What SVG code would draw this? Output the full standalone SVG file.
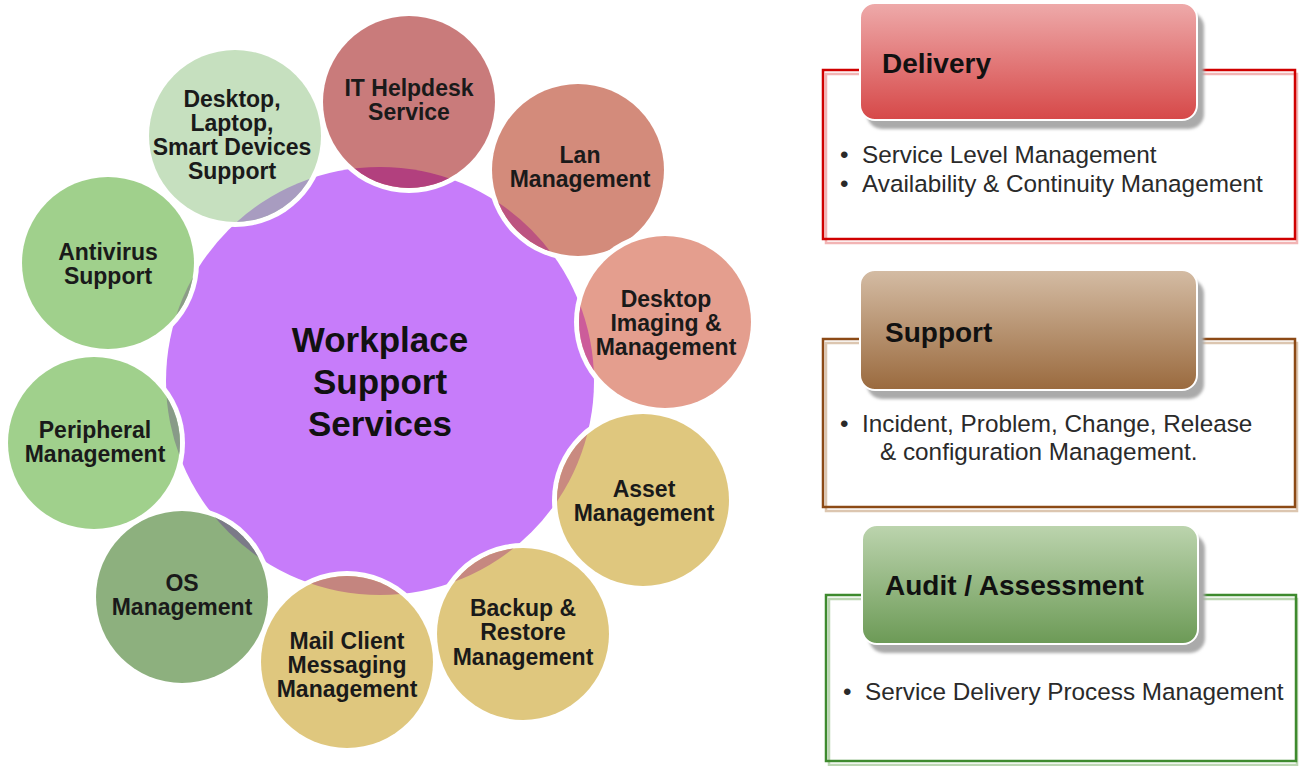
<svg xmlns="http://www.w3.org/2000/svg" width="1299" height="766" viewBox="0 0 1299 766">
<style>
.sat{font-family:"Liberation Sans",Arial,sans-serif;font-weight:bold;font-size:23px;fill:#1a1a1a;text-anchor:middle}
.ctr{font-family:"Liberation Sans",Arial,sans-serif;font-weight:bold;font-size:35px;fill:#111;text-anchor:middle}
.hd{font-family:"Liberation Sans",Arial,sans-serif;font-weight:bold;font-size:28px;fill:#111}
.bl{font-family:"Liberation Sans",Arial,sans-serif;font-size:24.3px;fill:#2a2a2a}
.halo{fill:#fff}
</style>
<defs>
<filter id="blur" x="-10%" y="-10%" width="120%" height="130%"><feGaussianBlur stdDeviation="1.5"/></filter>
<linearGradient id="gRed" x1="0" y1="0" x2="0" y2="1"><stop offset="0" stop-color="#eeaaaa"/><stop offset="1" stop-color="#d64848"/></linearGradient>
<linearGradient id="gBrown" x1="0" y1="0" x2="0" y2="1"><stop offset="0" stop-color="#d4bca4"/><stop offset="1" stop-color="#9a6a3e"/></linearGradient>
<linearGradient id="gGreen" x1="0" y1="0" x2="0" y2="1"><stop offset="0" stop-color="#bcd4ae"/><stop offset="1" stop-color="#6c9a56"/></linearGradient>
<clipPath id="c1"><circle cx="409" cy="102" r="86"/></clipPath>
<clipPath id="c2"><circle cx="578" cy="170" r="86"/></clipPath>
<clipPath id="c3"><circle cx="665" cy="322" r="86"/></clipPath>
<clipPath id="c4"><circle cx="643" cy="500" r="86"/></clipPath>
<clipPath id="c5"><circle cx="523" cy="634" r="86"/></clipPath>
<clipPath id="c6"><circle cx="347" cy="662" r="86"/></clipPath>
<clipPath id="c7"><circle cx="182" cy="597" r="86"/></clipPath>
<clipPath id="c8"><circle cx="94" cy="443" r="86"/></clipPath>
<clipPath id="c9"><circle cx="108" cy="263" r="86"/></clipPath>
<clipPath id="c10"><circle cx="235" cy="136" r="86"/></clipPath>
</defs>

<g id="n-center">
<circle cx="380" cy="381" r="214" fill="#c77cfa"/>
</g>

<g id="n-it-helpdesk">
<circle class="halo" cx="409" cy="102" r="91"/>
<circle cx="409" cy="102" r="86" fill="#c97b7b"/>
<circle cx="380" cy="381" r="214" fill="#b2407e" clip-path="url(#c1)"/>
<text class="sat" x="409" y="96">IT Helpdesk</text>
<text class="sat" x="409" y="120">Service</text>
</g>

<g id="n-lan">
<circle class="halo" cx="578" cy="170" r="91"/>
<circle cx="578" cy="170" r="86" fill="#d38b7b"/>
<circle cx="380" cy="381" r="214" fill="#bc5480" clip-path="url(#c2)"/>
<text class="sat" x="580" y="163">Lan</text>
<text class="sat" x="580" y="187">Management</text>
</g>

<g id="n-desktop-imaging">
<circle class="halo" cx="665" cy="322" r="91"/>
<circle cx="665" cy="322" r="86" fill="#e49e8e"/>
<circle cx="380" cy="381" r="214" fill="#cc5c9a" clip-path="url(#c3)"/>
<text class="sat" x="666" y="307">Desktop</text>
<text class="sat" x="666" y="331">Imaging &amp;</text>
<text class="sat" x="666" y="355">Management</text>
</g>

<g id="n-asset">
<circle class="halo" cx="643" cy="500" r="91"/>
<circle cx="643" cy="500" r="86" fill="#dfc77e"/>
<circle cx="380" cy="381" r="214" fill="#c98a80" clip-path="url(#c4)"/>
<text class="sat" x="644" y="497">Asset</text>
<text class="sat" x="644" y="521">Management</text>
</g>

<g id="n-backup">
<circle class="halo" cx="523" cy="634" r="91"/>
<circle cx="523" cy="634" r="86" fill="#dfc77e"/>
<circle cx="380" cy="381" r="214" fill="#c68880" clip-path="url(#c5)"/>
<text class="sat" x="523" y="616">Backup &amp;</text>
<text class="sat" x="523" y="640">Restore</text>
<text class="sat" x="523" y="665">Management</text>
</g>

<g id="n-mail">
<circle class="halo" cx="347" cy="662" r="91"/>
<circle cx="347" cy="662" r="86" fill="#dfc77e"/>
<circle cx="380" cy="381" r="214" fill="#c4857f" clip-path="url(#c6)"/>
<text class="sat" x="347" y="649">Mail Client</text>
<text class="sat" x="347" y="673">Messaging</text>
<text class="sat" x="347" y="697">Management</text>
</g>

<g id="n-os">
<circle class="halo" cx="182" cy="597" r="91"/>
<circle cx="182" cy="597" r="86" fill="#8db07e"/>
<circle cx="380" cy="381" r="214" fill="#7b7a88" clip-path="url(#c7)"/>
<text class="sat" x="182" y="591">OS</text>
<text class="sat" x="182" y="615">Management</text>
</g>

<g id="n-peripheral">
<circle class="halo" cx="94" cy="443" r="91"/>
<circle cx="94" cy="443" r="86" fill="#a0d08c"/>
<circle cx="380" cy="381" r="214" fill="#889a88" clip-path="url(#c8)"/>
<text class="sat" x="95" y="438">Peripheral</text>
<text class="sat" x="95" y="462">Management</text>
</g>

<g id="n-antivirus">
<circle class="halo" cx="108" cy="263" r="91"/>
<circle cx="108" cy="263" r="86" fill="#a0d08c"/>
<circle cx="380" cy="381" r="214" fill="#8c9c88" clip-path="url(#c9)"/>
<text class="sat" x="108" y="260">Antivirus</text>
<text class="sat" x="108" y="284">Support</text>
</g>

<g id="n-desktop-laptop">
<circle class="halo" cx="235" cy="136" r="91"/>
<circle cx="235" cy="136" r="86" fill="#c6e0bf"/>
<circle cx="380" cy="381" r="214" fill="#a89cc0" clip-path="url(#c10)"/>
<text class="sat" x="232" y="107">Desktop,</text>
<text class="sat" x="232" y="131">Laptop,</text>
<text class="sat" x="232" y="155">Smart Devices</text>
<text class="sat" x="232" y="179">Support</text>
</g>

<g id="n-center-label">
<text class="ctr" x="380" y="352">Workplace</text>
<text class="ctr" x="380" y="394">Support</text>
<text class="ctr" x="380" y="436">Services</text>
</g>

<g id="n-delivery">
<rect x="826" y="74" width="471" height="169" fill="none" stroke="#f2b4b4" stroke-width="2.5"/>
<rect x="823" y="70" width="472" height="169" fill="none" stroke="#d00000" stroke-width="2.5"/>
<rect x="867" y="12" width="337" height="117" rx="15" fill="#aaa" filter="url(#blur)"/>
<rect x="860" y="3" width="337" height="117" rx="15" fill="url(#gRed)" stroke="#fff" stroke-width="2"/>
<text class="hd" x="882" y="73">Delivery</text>
<text class="bl" x="840" y="163">•</text>
<text class="bl" x="862" y="163">Service Level Management</text>
<text class="bl" x="840" y="192">•</text>
<text class="bl" x="862" y="192">Availability &amp; Continuity Management</text>
</g>

<g id="n-support">
<rect x="826" y="343" width="471" height="168" fill="none" stroke="#dcc6b0" stroke-width="2.5"/>
<rect x="823" y="339" width="472" height="168" fill="none" stroke="#8c4a16" stroke-width="2.5"/>
<rect x="867" y="279" width="337" height="120" rx="15" fill="#aaa" filter="url(#blur)"/>
<rect x="860" y="270" width="337" height="120" rx="15" fill="url(#gBrown)" stroke="#fff" stroke-width="2"/>
<text class="hd" x="885" y="342">Support</text>
<text class="bl" x="840" y="432">•</text>
<text class="bl" x="862" y="432">Incident, Problem, Change, Release</text>
<text class="bl" x="880" y="460">&amp; configuration Management.</text>
</g>

<g id="n-audit">
<rect x="829" y="599" width="468" height="166" fill="none" stroke="#bcd6b2" stroke-width="2.5"/>
<rect x="826" y="595" width="470" height="166" fill="none" stroke="#3e8a2e" stroke-width="2.5"/>
<rect x="869" y="534" width="336" height="119" rx="15" fill="#aaa" filter="url(#blur)"/>
<rect x="862" y="525" width="336" height="119" rx="15" fill="url(#gGreen)" stroke="#fff" stroke-width="2"/>
<text class="hd" x="885" y="595">Audit / Assessment</text>
<text class="bl" x="843" y="700">•</text>
<text class="bl" x="865" y="700">Service Delivery Process Management</text>
</g>
</svg>
